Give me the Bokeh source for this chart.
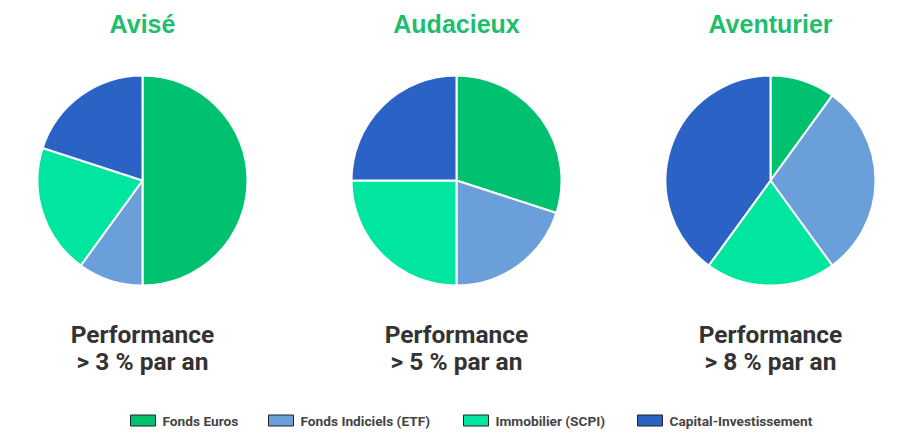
import math
from bokeh.plotting import figure
from bokeh.models import Range1d, ColumnDataSource
from bokeh.core.properties import value
from bokeh.embed import file_html
from bokeh.resources import INLINE

profiles = ["Avisé", "Audacieux", "Aventurier"]
performance = ["> 3 % par an", "> 5 % par an", "> 8 % par an"]
categories = ["Fonds Euros", "Fonds Indiciels (ETF)", "Immobilier (SCPI)", "Capital-Investissement"]
shares_avise = [50, 10, 20, 20]
shares_audacieux = [30, 20, 25, 25]
shares_aventurier = [10, 30, 20, 40]
colors = ["#00C170", "#6A9FDA", "#00E6A0", "#2A63C5"]

W, H = 900, 433
p = figure(width=W, height=H, output_backend="svg", toolbar_location=None,
           x_range=Range1d(0, W), y_range=Range1d(0, H), min_border=0)
p.axis.visible = False
p.grid.visible = False
p.outline_line_color = None
p.background_fill_color = "white"

centers_x = [142, 456, 770]
cy = H - 180
radius = 105
font = value("Roboto")

for i, shares in enumerate([shares_avise, shares_audacieux, shares_aventurier]):
    total = sum(shares)
    starts, ends = [], []
    cum = 0.0
    for s in shares:
        starts.append(math.pi / 2 - 2 * math.pi * cum / total)
        cum += s
        ends.append(math.pi / 2 - 2 * math.pi * cum / total)
    src = ColumnDataSource(dict(x=[centers_x[i]] * 4, y=[cy] * 4, s=starts, e=ends, c=colors))
    p.wedge(x="x", y="y", radius=radius, start_angle="s", end_angle="e", direction="clock",
            fill_color="c", line_color="white", line_width=2, source=src)
    p.text(x=[centers_x[i]], y=[H - 23], text=[profiles[i]], text_font=value("Liberation Sans"),
           text_font_style="bold", text_font_size="25px", text_color="#1EBE6E",
           text_align="center", text_baseline="middle")
    p.text(x=[centers_x[i]], y=[H - 334], text=["Performance"], text_font=font,
           text_font_style="bold", text_font_size="24.5px", text_color="#333333",
           text_align="center", text_baseline="middle")
    p.text(x=[centers_x[i]], y=[H - 361], text=[performance[i]], text_font=font,
           text_font_style="bold", text_font_size="24.5px", text_color="#333333",
           text_align="center", text_baseline="middle")

leg_x = [130, 268, 463, 637]
ly = H - 420
p.rect(x=[lx + 12.5 for lx in leg_x], y=[ly] * 4, width=25, height=11,
       fill_color=colors, line_color="#222222", line_width=1)
p.text(x=[lx + 32 for lx in leg_x], y=[ly] * 4, text=categories, text_font=font,
       text_font_style="bold", text_font_size="13.7px", text_color="#444444",
       text_align="left", text_baseline="middle")

open("out.html", "w").write(file_html(p, INLINE))
